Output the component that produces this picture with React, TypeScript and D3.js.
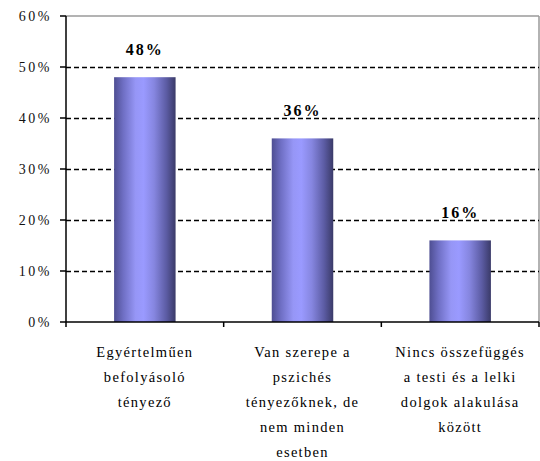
import React from "react";
import * as d3 from "d3";

const categories: string[][] = [
  ["Egyértelműen", "befolyásoló", "tényező"],
  ["Van szerepe a", "pszichés", "tényezőknek, de", "nem minden", "esetben"],
  ["Nincs összefüggés", "a testi és a lelki", "dolgok alakulása", "között"],
];
const values: number[] = [0.48, 0.36, 0.16];
const valueLabels: string[] = ["48%", "36%", "16%"];
const yTicks: number[] = [0, 0.1, 0.2, 0.3, 0.4, 0.5, 0.6];

const W = 540;
const H = 461;
const margin = { left: 66, right: 1, top: 16, bottom: 139 };
const FONT = "'Liberation Serif', 'Times New Roman', serif";

export default function App() {
  const x = d3
    .scaleBand<number>()
    .domain(d3.range(values.length))
    .range([margin.left, W - margin.right])
    .paddingInner(0.61)
    .paddingOuter(0.305);
  const y = d3.scaleLinear().domain([0, 0.6]).range([H - margin.bottom, margin.top]);
  const fmt = d3.format(".0%");
  const x0 = margin.left;
  const x1 = W - margin.right;
  const y0 = y(0);
  const yTop = y(0.6);
  const step = x.step();
  const boundaries = d3.range(values.length + 1).map((i) => x0 + i * step);

  return (
    <svg
      width={W}
      height={H}
      style={{ position: "absolute", left: 0, top: 0, background: "#fff" }}
      fontFamily={FONT}
    >
      <defs>
        <linearGradient id="barGrad" x1="0" y1="0" x2="1" y2="0">
          <stop offset="0%" stopColor="#4e4e92" />
          <stop offset="15%" stopColor="#6f6fc4" />
          <stop offset="35%" stopColor="#9696f6" />
          <stop offset="48%" stopColor="#9a9aff" />
          <stop offset="65%" stopColor="#8686e0" />
          <stop offset="85%" stopColor="#5c5ca4" />
          <stop offset="100%" stopColor="#3a3a68" />
        </linearGradient>
      </defs>

      {/* plot border (top/right) */}
      <line x1={x0} x2={x1} y1={yTop} y2={yTop} stroke="#9a9a9a" strokeWidth={1.5} />
      <line x1={x1} x2={x1} y1={yTop} y2={y0} stroke="#9a9a9a" strokeWidth={1.5} />

      {/* gridlines */}
      {yTicks
        .filter((t) => t > 0 && t < 0.6)
        .map((t) => (
          <line
            key={t}
            x1={x0}
            x2={x1}
            y1={Math.round(y(t)) + 0.5}
            y2={Math.round(y(t)) + 0.5}
            stroke="#000"
            strokeWidth={1.5}
            strokeDasharray="5,3"
          />
        ))}

      {/* bars */}
      {values.map((v, i) => (
        <rect
          key={i}
          x={x(i)}
          y={y(v)}
          width={x.bandwidth()}
          height={y0 - y(v)}
          fill="url(#barGrad)"
        />
      ))}

      {/* value labels */}
      {values.map((v, i) => (
        <text
          key={i}
          x={(x(i) as number) + x.bandwidth() / 2}
          y={y(v) - 28}
          dy="0.35em"
          textAnchor="middle"
          fontSize={16}
          fontWeight="bold"
          letterSpacing={2}
          fill="#000"
        >
          {valueLabels[i]}
        </text>
      ))}

      {/* axes */}
      <line x1={x0} x2={x0} y1={yTop} y2={y0} stroke="#000" strokeWidth={1.5} />
      <line x1={x0} x2={x1} y1={y0} y2={y0} stroke="#000" strokeWidth={1.5} />

      {yTicks.map((t) => (
        <g key={t}>
          <line x1={x0 - 6} x2={x0} y1={y(t)} y2={y(t)} stroke="#000" strokeWidth={1.5} />
          <text
            x={52}
            y={y(t)}
            dy="0.35em"
            textAnchor="end"
            fontSize={14}
            letterSpacing={2.5}
            fill="#111"
          >
            {fmt(t)}
          </text>
        </g>
      ))}

      {boundaries.map((bx, i) => (
        <line key={i} x1={bx} x2={bx} y1={y0} y2={y0 + 5} stroke="#000" strokeWidth={1.5} />
      ))}

      {/* category labels */}
      {categories.map((lines, i) => (
        <text
          key={i}
          x={(x(i) as number) + x.bandwidth() / 2}
          y={y0 + 35}
          textAnchor="middle"
          fontSize={14.5}
          letterSpacing={1.3}
          fill="#000"
        >
          {lines.map((ln, j) => (
            <tspan key={j} x={(x(i) as number) + x.bandwidth() / 2} dy={j === 0 ? 0 : 25}>
              {ln}
            </tspan>
          ))}
        </text>
      ))}
    </svg>
  );
}
